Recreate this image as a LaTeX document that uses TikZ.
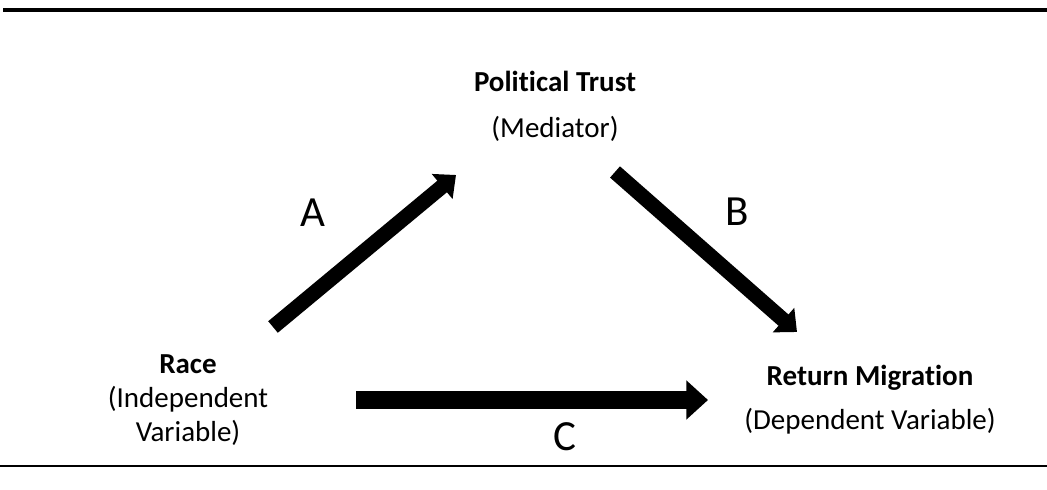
\documentclass[tikz,border=0pt]{standalone}
\usepackage{fontspec}
\setmainfont{Carlito}[Ligatures=NoCommon]
\usepackage{tikz}
\usetikzlibrary{arrows.meta,positioning}
\definecolor{inkblack}{HTML}{000000}
\tikzset{
  varlabel/.style={
    font=\fontsize{14.5}{17}\selectfont, align=center,
    inner sep=0pt, text=inkblack
  },
  pathletter/.style={
    font=\fontsize{21.5}{24}\selectfont, inner sep=0pt, text=inkblack
  },
  patharrow/.style={
    -{Triangle[width=#1*2.1, length=#1*1.2]}, line width=#1, color=inkblack
  },
  patharrow/.default=7.5pt,
}

\begin{document}
\begin{tikzpicture}[x=0.5pt, y=-0.5pt]
  \useasboundingbox (0,0) rectangle (1047,490);

  % Rules above and below
  \draw[line width=2pt] (3,10) -- (1047,10);
  \draw[line width=0.7pt] (0,466) -- (1047,466);

  % Variables
  \node[varlabel] (trust) at (555,106)
    {\textbf{Political Trust}\\[6pt](Mediator)};
  \node[varlabel] (race) at (188,400)
    {\textbf{Race}\\(Independent\\Variable)};
  \node[varlabel] (return) at (870,400)
    {\textbf{Return Migration}\\[5pt](Dependent Variable)};

  % Arrow end points
  \coordinate (aTail) at (273,327);
  \coordinate (aHead) at (456,175);
  \coordinate (bTail) at (615,172);
  \coordinate (bHead) at (797,332);
  \coordinate (cTail) at (356,400);
  \coordinate (cHead) at (708,400);

  \draw[patharrow] (aTail) -- (aHead);
  \draw[patharrow] (bTail) -- (bHead);
  \draw[patharrow=9pt] (cTail) -- (cHead);

  % Path labels
  \node[pathletter] (pathA) at (313,213) {A};
  \node[pathletter] (pathB) at (737,212) {B};
  \node[pathletter] (pathC) at (565,437) {C};
\end{tikzpicture}
\end{document}
